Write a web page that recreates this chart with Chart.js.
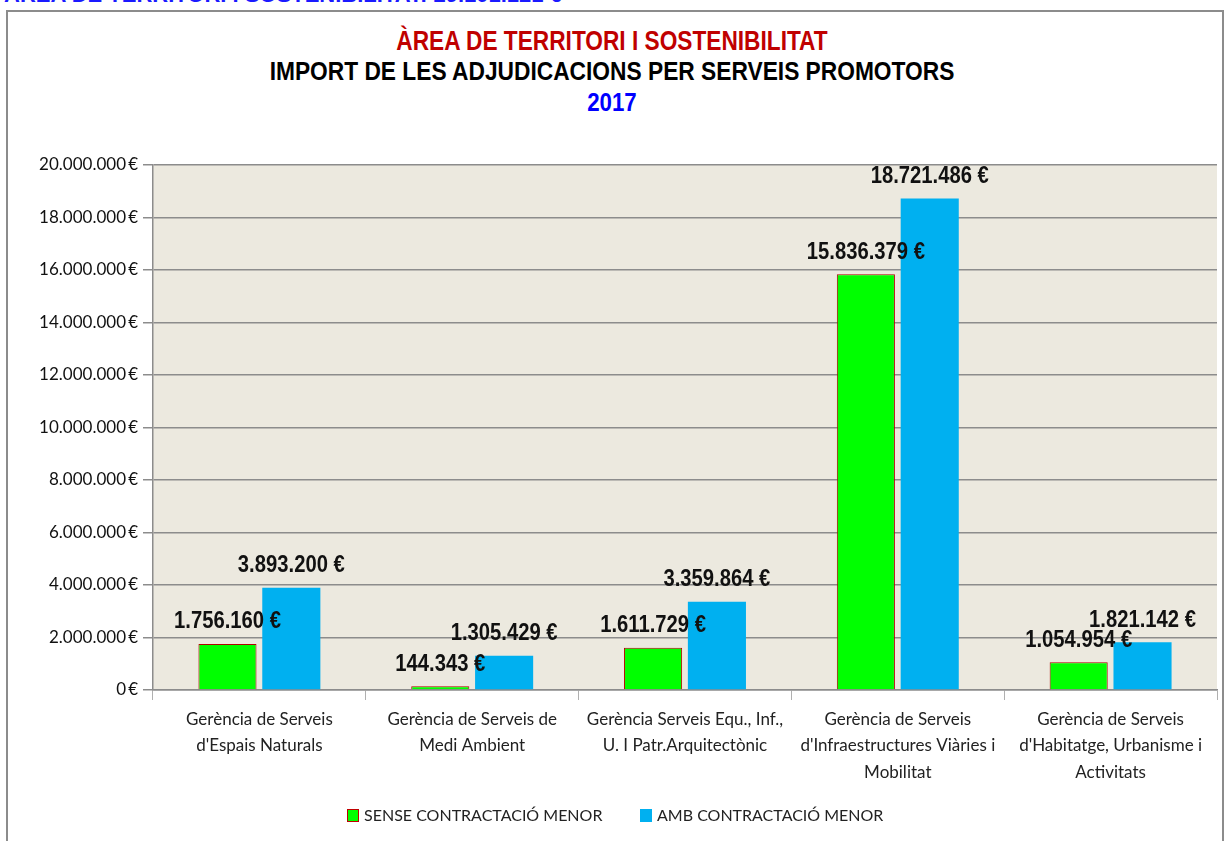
<!DOCTYPE html>
<html>
<head>
<meta charset="utf-8">
<script src="https://cdn.jsdelivr.net/npm/chart.js@4/dist/chart.umd.min.js"></script>
<style>
    body { margin: 0; width: 1224px; height: 841px; background: #fff; position: relative; overflow: hidden; }
    #top-strip { position: absolute; left: 4px; top: -18px; font: bold 22px "Liberation Sans", Arial, sans-serif; color: #1a1aff; white-space: nowrap; }
    #frame { position: absolute; left: 6px; top: 10px; width: 1214px; height: 860px; border: 2px solid #8c8c8c; }
    .title { position: absolute; left: 0; width: 1224px; text-align: center; font-family: "Liberation Sans", Arial, sans-serif; font-weight: bold; white-space: nowrap; }
    #t1 { top: 26px; font-size: 27px; color: #c00000; transform: scaleX(0.84); }
    #t2 { top: 57px; font-size: 25px; color: #000; transform: scaleX(0.91); }
    #t3 { top: 88px; font-size: 25px; color: #0000ff; transform: scaleX(0.89); }
    #chart { position: absolute; left: 0; top: 0; }
    #legend { position: absolute; top: 805px; left: 0; width: 1224px; font: 16px Lato, "Open Sans", sans-serif; color: #222; }
    .item { position: absolute; white-space: nowrap; }
    .box { display: inline-block; width: 10px; height: 11px; margin-right: 5px; vertical-align: -1px; }
</style>
</head>
<body>
<div id="top-strip"></div>
<div id="frame"></div>
<div class="title" id="t1"></div>
<div class="title" id="t2"></div>
<div class="title" id="t3"></div>
<canvas id="chart" width="1224" height="841"></canvas>
<div id="legend"></div>
<script>
const topText = "ÀREA DE TERRITORI I SOSTENIBILITAT: 29.101.121 €";
const titleLines = ["ÀREA DE TERRITORI I SOSTENIBILITAT", "IMPORT DE LES ADJUDICACIONS  PER SERVEIS PROMOTORS", "2017"];

const categories = [
    ["Gerència de Serveis", "d'Espais Naturals"],
    ["Gerència de Serveis de", "Medi Ambient"],
    ["Gerència Serveis Equ., Inf.,", "U. I Patr.Arquitectònic"],
    ["Gerència de Serveis", "d'Infraestructures Viàries i", "Mobilitat"],
    ["Gerència de Serveis", "d'Habitatge, Urbanisme i", "Activitats"]
];
const seriesNames = ["SENSE CONTRACTACIÓ MENOR", "AMB CONTRACTACIÓ MENOR"];
const senseValues = [1756160, 144343, 1611729, 15836379, 1054954];
const ambValues = [3893200, 1305429, 3359864, 18721486, 1821142];
const yTicks = [0, 2000000, 4000000, 6000000, 8000000, 10000000, 12000000, 14000000, 16000000, 18000000, 20000000];

function euro(v) {
    return v.toString().replace(/\B(?=(\d{3})+(?!\d))/g, ".");
}

document.getElementById("top-strip").textContent = topText;
document.getElementById("t1").textContent = titleLines[0];
document.getElementById("t2").textContent = titleLines[1];
document.getElementById("t3").textContent = titleLines[2];

// legend
const legendColors = [["#00ff00", "#c00000"], ["#00b0f0", "#00b0f0"]];
const legendLeft = [347, 640];
let legend = document.getElementById("legend");
seriesNames.forEach((name, i) => {
    let span = document.createElement("span");
    span.className = "item";
    span.style.left = legendLeft[i] + "px";
    span.innerHTML = `<span class="box" style="background:${legendColors[i][0]};border:1px solid ${legendColors[i][1]}"></span>${name}`;
    legend.appendChild(span);
});

// fondo del área de trazado
const plotBg = {
    id: "plotBg",
    beforeDraw(chart) {
        const a = chart.chartArea, ctx = chart.ctx;
        ctx.save();
        ctx.fillStyle = "#ece9df";
        ctx.fillRect(a.left, a.top, a.right - a.left, a.bottom - a.top);
        ctx.restore();
    }
};

// etiquetas de valor encima de cada barra (letra algo estrecha)
const valueLabels = {
    id: "valueLabels",
    afterDatasetsDraw(chart) {
        const ctx = chart.ctx;
        const sx = 0.88;
        chart.data.datasets.forEach((ds, di) => {
            chart.getDatasetMeta(di).data.forEach((bar, i) => {
                ctx.save();
                ctx.font = "bold 23px 'Liberation Sans', Arial, sans-serif";
                ctx.fillStyle = "#111";
                ctx.textAlign = "center";
                ctx.textBaseline = "middle";
                ctx.translate(bar.x, bar.y - 22);
                ctx.scale(sx, 1);
                ctx.fillText(euro(ds.data[i]) + " €", 0, 0);
                ctx.restore();
            });
        });
    }
};

new Chart(document.getElementById("chart"), {
    type: "bar",
    data: {
        labels: categories,
        datasets: [
            {
                label: seriesNames[0],
                data: senseValues,
                backgroundColor: "#00ff00",
                borderColor: "#b00000",
                borderWidth: 1,
                borderSkipped: "bottom",
                categoryPercentage: 0.6,
                barPercentage: 0.91
            },
            {
                label: seriesNames[1],
                data: ambValues,
                backgroundColor: "#00b0f0",
                borderWidth: 0,
                categoryPercentage: 0.6,
                barPercentage: 0.91
            }
        ]
    },
    options: {
        responsive: false,
        animation: false,
        layout: { padding: { top: 165, right: 7, left: 0, bottom: 0 } },
        plugins: { legend: { display: false }, title: { display: false }, tooltip: { enabled: false } },
        scales: {
            y: {
                min: 0,
                max: 20000000,
                afterBuildTicks(scale) { scale.ticks = yTicks.map(v => ({ value: v })); },
                afterFit(scale) { scale.width = 153; },
                ticks: {
                    color: "#111",
                    font: { family: "Lato, 'Open Sans', sans-serif", size: 17 },
                    padding: 5,
                    callback: v => euro(v) + "\u2009€"
                },
                grid: { color: "#8c8c8c", lineWidth: 1.5, tickLength: 10 },
                border: { color: "#8c8c8c", width: 1.5 }
            },
            x: {
                afterFit(scale) { scale.height = 151; },
                ticks: {
                    color: "#222",
                    font: { family: "Lato, 'Open Sans', sans-serif", size: 17, lineHeight: 1.53 },
                    padding: 7,
                    maxRotation: 0
                },
                grid: { offset: true, drawOnChartArea: false, color: "#b0b0b0", tickLength: 10 },
                border: { color: "#8c8c8c", width: 1.5 }
            }
        }
    },
    plugins: [plotBg, valueLabels]
});
</script>
</body>
</html>
